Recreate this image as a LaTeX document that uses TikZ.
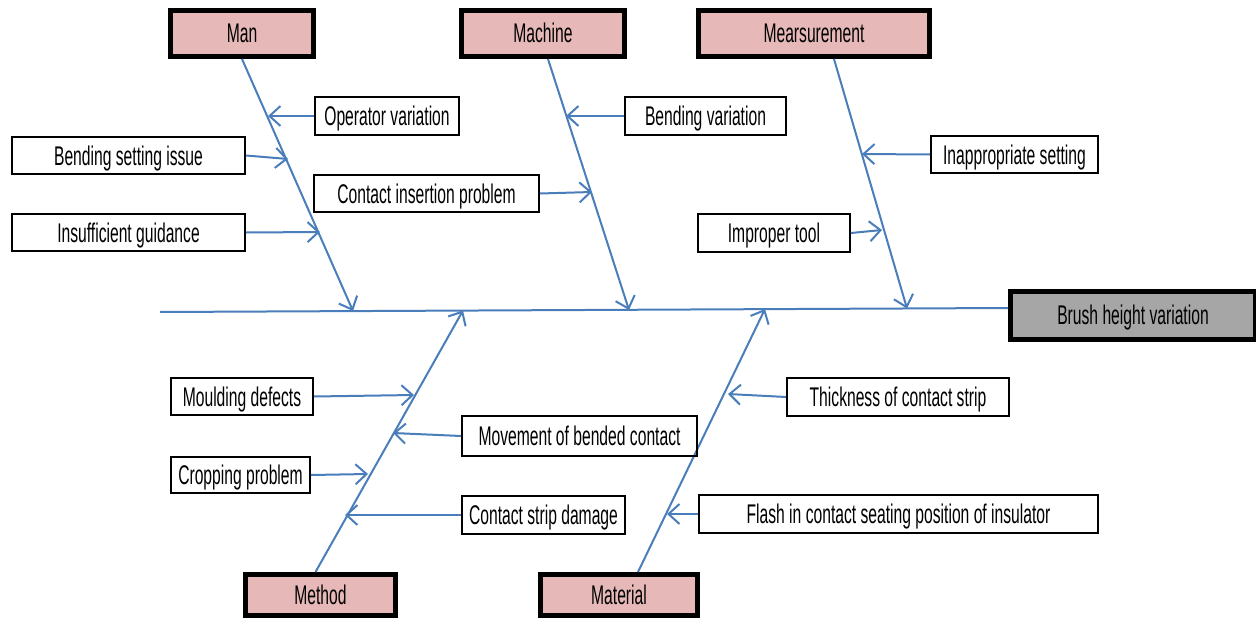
\documentclass[tikz,border=0pt]{standalone}
\usepackage{fontspec}
\setmainfont{Liberation Sans}[FakeStretch=0.58]
\usetikzlibrary{arrows.meta}

\definecolor{bonecol}{RGB}{74,126,187}
\definecolor{catfill}{RGB}{230,185,184}
\definecolor{effectfill}{RGB}{166,166,166}

\tikzset{
  boxfont/.style={font=\fontsize{27}{30}\selectfont, text height=21pt, text depth=2pt},
  cause/.style={draw, line width=2pt, inner sep=0pt, minimum height=37pt, boxfont},
  category/.style={draw, line width=5pt, fill=catfill, inner sep=0pt, minimum height=46pt, boxfont},
  effect/.style={draw, line width=5pt, fill=effectfill, inner sep=0pt, minimum width=245pt, minimum height=48pt, boxfont},
  spine/.style={draw=bonecol, line width=2pt},
  bonearrow/.style={draw=bonecol, line width=2pt, -{Straight Barb[length=11pt,width=20pt]}}
}

\begin{document}
\begin{tikzpicture}[x=1pt,y=-1pt]
  \useasboundingbox (0,0) rectangle (1256,618);

  % categories
  \node[category, minimum width=143pt] (man) at (242,33.5) {Man};
  \node[category, minimum width=163pt] (machine) at (543,33.5) {Machine};
  \node[category, minimum width=231pt] (meas) at (814,33.5) {Mearsurement};
  \node[category, minimum width=150pt, minimum height=41pt] (method) at (320.5,595) {Method};
  \node[category, minimum width=157pt, minimum height=41pt] (material) at (619,595) {Material};

  % effect
  \node[effect] (effect) at (1133,315) {Brush height variation};

  % spine
  \coordinate (tail) at (160,312);
  \draw[spine] (tail) -- ([yshift=7pt]effect.west);

  % bones
  \coordinate (man-end) at (353,311);
  \coordinate (mach-end) at (629,310);
  \coordinate (meas-end) at (907,308.5);
  \coordinate (meth-end) at (463,310.5);
  \coordinate (mat-end) at (765,309);
  \draw[bonearrow] (man.south) -- (man-end);
  \draw[bonearrow] ([xshift=5pt]machine.south) -- (mach-end);
  \draw[bonearrow] ([xshift=20pt]meas.south) -- (meas-end);
  \draw[bonearrow] ([xshift=-5pt]method.north) -- (meth-end);
  \draw[bonearrow] ([xshift=19pt]material.north) -- (mat-end);

  % causes - man
  \node[cause, minimum width=144pt, minimum height=38pt] (opvar) at (387,116) {Operator variation};
  \node[cause, minimum width=233pt] (bendset) at (128.5,155.5) {Bending setting issue};
  \node[cause, minimum width=233pt] (guid) at (128.5,232.5) {Insufficient guidance};
  \coordinate (t-opvar) at (268,116);
  \coordinate (t-bendset) at (288,159);
  \coordinate (t-guid) at (320,232);
  \draw[bonearrow] (opvar.west) -- (t-opvar);
  \draw[bonearrow] (bendset.east) -- (t-bendset);
  \draw[bonearrow] (guid.east) -- (t-guid);

  % causes - machine
  \node[cause, minimum width=225pt] (insert) at (426.5,193.5) {Contact insertion problem};
  \node[cause, minimum width=161pt, minimum height=38pt] (bendvar) at (705.5,116) {Bending variation};
  \coordinate (t-insert) at (592,192);
  \coordinate (t-bendvar) at (566,116);
  \draw[bonearrow] (insert.east) -- (t-insert);
  \draw[bonearrow] (bendvar.west) -- (t-bendvar);

  % causes - mearsurement
  \node[cause, minimum width=167pt] (inapp) at (1014.5,154.5) {Inappropriate setting};
  \node[cause, minimum width=152pt, minimum height=38pt] (tool) at (774,233) {Improper tool};
  \coordinate (t-inapp) at (862,154);
  \coordinate (t-tool) at (882,230);
  \draw[bonearrow] (inapp.west) -- (t-inapp);
  \draw[bonearrow] (tool.east) -- (t-tool);

  % causes - method
  \node[cause, minimum width=142pt] (mould) at (242,396.5) {Moulding defects};
  \node[cause, minimum width=235pt, minimum height=40pt] (movem) at (579.5,436) {Movement of bended contact};
  \node[cause, minimum width=139pt, minimum height=36pt] (crop) at (240.5,475) {Cropping problem};
  \node[cause, minimum width=163pt, minimum height=38pt] (damage) at (543.5,515) {Contact strip damage};
  \coordinate (t-mould) at (414,395);
  \coordinate (t-movem) at (393,433);
  \coordinate (t-crop) at (368,474);
  \coordinate (t-damage) at (345,515);
  \draw[bonearrow] (mould.east) -- (t-mould);
  \draw[bonearrow] (movem.west) -- (t-movem);
  \draw[bonearrow] (crop.east) -- (t-crop);
  \draw[bonearrow] (damage.west) -- (t-damage);

  % causes - material
  \node[cause, minimum width=222pt, minimum height=38pt] (thick) at (898,397) {Thickness of contact strip};
  \node[cause, minimum width=399pt, minimum height=38pt] (flash) at (898.5,514) {Flash in contact seating position of insulator};
  \coordinate (t-thick) at (728,394);
  \coordinate (t-flash) at (667,514);
  \draw[bonearrow] (thick.west) -- (t-thick);
  \draw[bonearrow] (flash.west) -- (t-flash);
\end{tikzpicture}
\end{document}
